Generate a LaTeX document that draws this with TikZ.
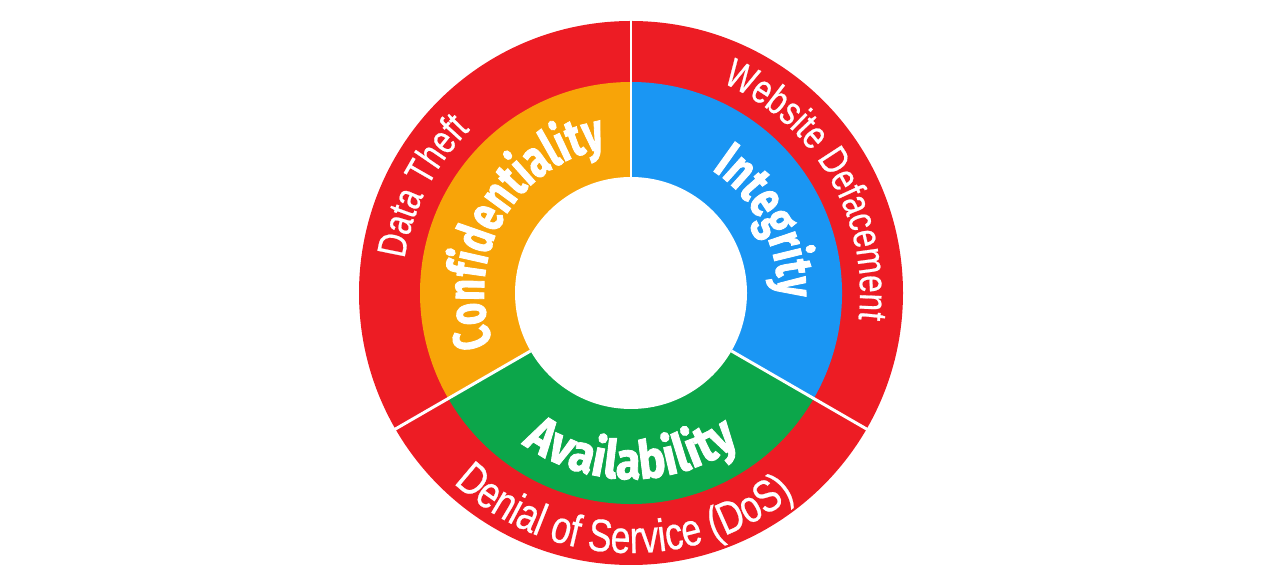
\documentclass[tikz,border=0pt]{standalone}
\usepackage{fontspec}
\setmainfont{Liberation Sans}
\newfontfamily\coreFont[FakeStretch=0.72, FakeBold=1.6]{Fira Sans}
\newfontfamily\wideCoreFont[FakeStretch=0.86, FakeBold=1.6]{Fira Sans}
\newfontfamily\threatFont[FakeStretch=0.78, FakeBold=0.5]{Liberation Sans}
\usetikzlibrary{calc}
\usetikzlibrary{decorations.text}

\definecolor{ringRed}{RGB}{237,28,36}
\definecolor{ringOrange}{RGB}{248,164,8}
\definecolor{ringBlue}{RGB}{26,150,243}
\definecolor{ringGreen}{RGB}{12,166,74}

\begin{document}
\begin{tikzpicture}[
  separator/.style={white, line width=1.7pt},
  core label/.style={decorate, decoration={text along path, text align=center,
    text={|\coreFont\bfseries\fontsize{30}{36}\selectfont\color{white}|#1}}},
  wide core label/.style={decorate, decoration={text along path, text align=center,
    text={|\wideCoreFont\bfseries\fontsize{30}{36}\selectfont\color{white}|#1}}},
  threat label/.style={decorate, decoration={text along path, text align=center,
    text={|\threatFont\fontsize{23}{27}\selectfont\color{white}|#1}}},
  big threat label/.style={decorate, decoration={text along path, text align=center,
    text={|\threatFont\fontsize{26}{30}\selectfont\color{white}|#1}}}
]
\useasboundingbox (0,0) rectangle (25.28,11.58);
\def\rOut{5.44}
\def\rMid{4.22}
\def\rIn{2.32}
\coordinate (O) at (12.62,5.72);

% outer ring of threats
\fill[ringRed] (O) circle[radius=\rOut];

% inner ring: the three principles
\fill[ringOrange] (O) -- ($(O)+(90:\rMid)$) arc[start angle=90, end angle=210, radius=\rMid] -- cycle;
\fill[ringBlue] (O) -- ($(O)+(-30:\rMid)$) arc[start angle=-30, end angle=90, radius=\rMid] -- cycle;
\fill[ringGreen] (O) -- ($(O)+(210:\rMid)$) arc[start angle=210, end angle=330, radius=\rMid] -- cycle;
\fill[white] (O) circle[radius=\rIn];

\foreach \ang in {90,210,330}
  \draw[separator] ($(O)+(\ang:\rIn)$) -- ($(O)+(\ang:\rOut+0.05)$);

% principle labels
\path[core label=Confidentiality] ($(O)+(230:2.94)$) arc[start angle=230, end angle=70, radius=2.94];
\path[core label=Integrity] ($(O)+(100:2.94)$) arc[start angle=100, end angle=-45, radius=2.94];
\path[wide core label=Availability] ($(O)+(200:3.72)$) arc[start angle=200, end angle=340, radius=3.72];

% threat labels
\path[threat label=Data Theft] ($(O)+(190:4.58)$) arc[start angle=190, end angle=116, radius=4.58];
\path[threat label=Website Defacement] ($(O)+(100:4.58)$) arc[start angle=100, end angle=-40, radius=4.58];
\path[big threat label=Denial of Service (DoS)] ($(O)+(200:5.20)$) arc[start angle=200, end angle=336, radius=5.20];
\end{tikzpicture}
\end{document}
